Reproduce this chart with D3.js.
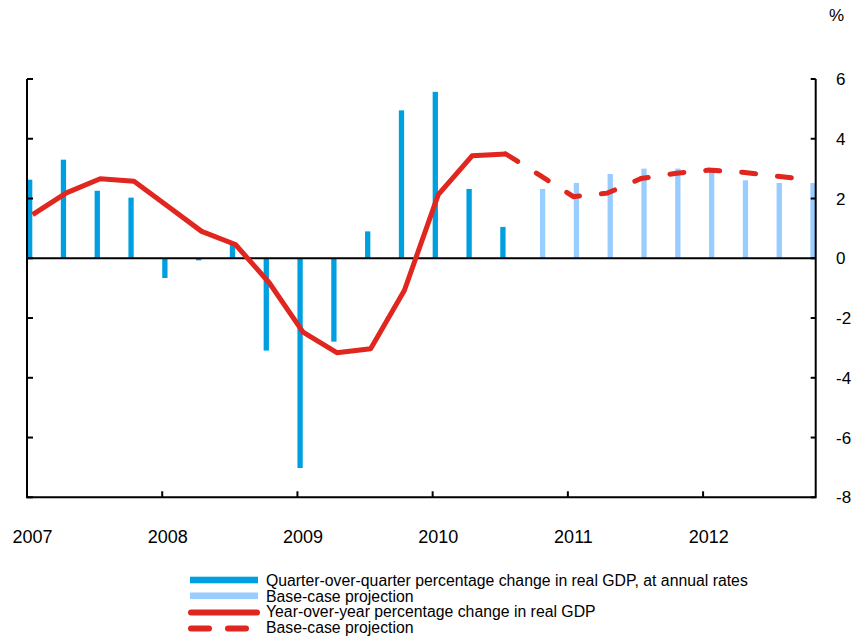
<!DOCTYPE html>
<html>
<head>
<meta charset="utf-8">
<script src="https://cdn.jsdelivr.net/npm/d3@7"></script>
<style>
  body { margin: 0; background: #fff; }
  svg { display: block; font-family: "Liberation Sans", Arial, sans-serif; }
  .lbl { font-size: 17px; fill: #000; }
  .yr { font-size: 18px; fill: #000; }
  .leg { font-size: 15.8px; fill: #000; }
</style>
</head>
<body>
<div id="chart"></div>
<script>
const years = ['2007', '2008', '2009', '2010', '2011', '2012'];
const quarters = years.flatMap(y => ['Q1', 'Q2', 'Q3', 'Q4'].map(q => y + q));

// quarter-over-quarter, annual rates (2007Q1 - 2010Q3), then projection (2010Q4 - 2012Q4)
const qoqActual = [2.63, 3.30, 2.26, 2.03, -0.66, -0.07, 0.48, -3.09, -7.02, -2.79, 0.90, 4.95, 5.57, 2.32, 1.05];
const qoqProjection = [2.32, 2.52, 2.82, 3.00, 3.00, 2.95, 2.61, 2.52, 2.52];

// year-over-year
const yoyActual = [1.46, 2.19, 2.66, 2.58, 1.74, 0.90, 0.46, -0.82, -2.47, -3.16, -3.03, -1.07, 2.13, 3.43, 3.49];
const yoyProjection = [2.78, 2.06, 2.18, 2.67, 2.84, 2.95, 2.88, 2.75, 2.62];

const yTicks = [6, 4, 2, 0, -2, -4, -6, -8];

const legendItems = [
  { label: 'Quarter-over-quarter percentage change in real GDP, at annual rates', kind: 'bar', color: '#00a0e0' },
  { label: 'Base-case projection', kind: 'bar', color: '#99ccff' },
  { label: 'Year-over-year percentage change in real GDP', kind: 'line', color: '#e1251f' },
  { label: 'Base-case projection', kind: 'dash', color: '#e1251f' }
];

const width = 855, height = 639;
const plotL = 27, plotR = 815.7, plotT = 79, plotB = 497.3;
const barW = 5.6;

const svg = d3.select('#chart').append('svg')
  .attr('width', width).attr('height', height);

const x = d3.scaleLinear()
  .domain([0, quarters.length - 1])
  .range([plotL + barW, plotR - barW]);
const y = d3.scaleLinear()
  .domain([-8, 6])
  .range([plotB, plotT]);

const actual = qoqActual.map((v, i) => ({ i, v }));
const proj = qoqProjection.map((v, k) => ({ i: qoqActual.length + k, v }));

svg.append('g').selectAll('rect')
  .data(actual)
  .join('rect')
    .attr('x', d => x(d.i) - barW)
    .attr('width', barW - 0.3)
    .attr('y', d => y(Math.max(0, d.v)))
    .attr('height', d => Math.abs(y(d.v) - y(0)))
    .attr('fill', '#00a0e0');

svg.append('g').selectAll('rect')
  .data(proj)
  .join('rect')
    .attr('x', d => x(d.i) + 0.3)
    .attr('width', barW - 0.3)
    .attr('y', d => y(Math.max(0, d.v)))
    .attr('height', d => Math.abs(y(d.v) - y(0)))
    .attr('fill', '#99ccff');

// zero line
svg.append('line')
  .attr('x1', plotL).attr('x2', plotR)
  .attr('y1', y(0)).attr('y2', y(0))
  .attr('stroke', '#000').attr('stroke-width', 2);

// axes
const axisG = svg.append('g').attr('stroke', '#000').attr('stroke-width', 2);
axisG.append('path')
  .attr('fill', 'none')
  .attr('d', `M${plotL},${plotT}V${plotB}H${plotR}V${plotT}`);
axisG.append('g').selectAll('line')
  .data(yTicks)
  .join('line')
    .attr('x1', plotL).attr('x2', plotL + 6)
    .attr('y1', d => y(d)).attr('y2', d => y(d));
axisG.append('g').selectAll('line')
  .data(yTicks)
  .join('line')
    .attr('x1', plotR - 5).attr('x2', plotR)
    .attr('y1', d => y(d)).attr('y2', d => y(d));
axisG.append('g').selectAll('line')
  .data(years.slice(1))
  .join('line')
    .attr('x1', (d, k) => x((k + 1) * 4) - barW)
    .attr('x2', (d, k) => x((k + 1) * 4) - barW)
    .attr('y1', plotB).attr('y2', plotB - 6);

svg.append('g').selectAll('text')
  .data(yTicks)
  .join('text')
    .attr('class', 'lbl')
    .attr('x', 836)
    .attr('y', d => y(d))
    .attr('dy', '0.36em')
    .text(d => d);

svg.append('text')
  .attr('class', 'lbl')
  .attr('x', 829).attr('y', 21)
  .text('%');

svg.append('g').selectAll('text')
  .data(years)
  .join('text')
    .attr('class', 'yr')
    .attr('text-anchor', 'middle')
    .attr('x', (d, k) => x(k * 4))
    .attr('y', 543)
    .text(d => d);

// year-over-year lines
const line = d3.line()
  .x(d => x(d.i))
  .y(d => y(d.v));

const yoyA = yoyActual.map((v, i) => ({ i, v }));
const yoyP = [yoyA[yoyA.length - 1]].concat(
  yoyProjection.map((v, k) => ({ i: yoyActual.length + k, v })));

svg.append('path')
  .datum(yoyA)
  .attr('d', line)
  .attr('fill', 'none')
  .attr('stroke', '#e1251f')
  .attr('stroke-width', 5)
  .attr('stroke-linejoin', 'round');

svg.append('path')
  .datum(yoyP)
  .attr('d', line)
  .attr('fill', 'none')
  .attr('stroke', '#e1251f')
  .attr('stroke-width', 5)
  .attr('stroke-linecap', 'round')
  .attr('stroke-dasharray', '14,22');

// legend
const legend = svg.append('g').attr('transform', 'translate(190,580)');
const rows = legend.selectAll('g')
  .data(legendItems)
  .join('g')
    .attr('transform', (d, k) => `translate(0,${k * 15.8})`);

rows.filter(d => d.kind === 'bar').append('rect')
  .attr('x', 0).attr('y', -3.3)
  .attr('width', 68).attr('height', 6.6)
  .attr('fill', d => d.color);

rows.filter(d => d.kind !== 'bar').append('line')
  .attr('x1', 1).attr('x2', d => d.kind === 'dash' ? 56 : 67)
  .attr('y1', 1).attr('y2', 1)
  .attr('stroke', d => d.color)
  .attr('stroke-width', 6)
  .attr('stroke-linecap', 'round')
  .attr('stroke-dasharray', d => d.kind === 'dash' ? '18,19' : null);

rows.append('text')
  .attr('class', 'leg')
  .attr('x', 76)
  .attr('y', 0)
  .attr('dy', '0.36em')
  .text(d => d.label);
</script>
</body>
</html>
